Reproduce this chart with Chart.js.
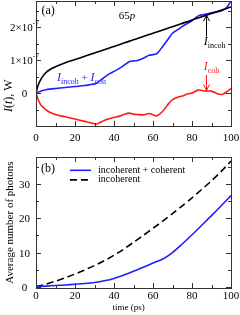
<!DOCTYPE html>
<html>
<head>
<meta charset="utf-8">
<script src="https://cdn.jsdelivr.net/npm/chart.js@4.4.0/dist/chart.umd.min.js"></script>
<style>
  html, body { margin: 0; padding: 0; background: #fff; }
  #wrap { position: relative; width: 240px; height: 315px; }
  canvas { position: absolute; left: 0; }
</style>
</head>
<body>
<div id="wrap">
  <canvas id="panelA" width="240" height="150" style="top:0"></canvas>
  <canvas id="panelB" width="240" height="165" style="top:150px"></canvas>
</div>
<script>
// ---- panel (a): intensity, in units of 1e-7 W ----
const timeA = [0, 1, 2, 3, 5, 7, 10, 15, 20, 25, 28, 30, 31, 32, 35, 38, 40, 43, 45, 48, 50,
  52, 55, 58, 60, 62, 65, 68, 70, 73, 75, 78, 80, 83, 85, 87, 90, 93, 95, 96, 98, 100];
const incoh = [0, 0.22, 0.36, 0.47, 0.62, 0.71, 0.8, 0.92, 1.02, 1.12, 1.18, 1.22, 1.24, 1.26,
  1.32, 1.38, 1.42, 1.48, 1.52, 1.58, 1.62, 1.66, 1.72, 1.78, 1.82, 1.86, 1.92, 1.98, 2.02,
  2.08, 2.12, 2.18, 2.22, 2.28, 2.32, 2.36, 2.42, 2.48, 2.52, 2.54, 2.58, 2.62];
const incohPlusCoh = [0, 0.03, 0.05, 0.07, 0.1, 0.12, 0.14, 0.17, 0.2, 0.23, 0.26, 0.28, 0.3,
  0.34, 0.48, 0.6, 0.66, 0.76, 0.84, 0.96, 0.98, 0.99, 1.06, 1.15, 1.17, 1.2, 1.42, 1.66, 1.82,
  1.94, 2.03, 2.13, 2.2, 2.34, 2.38, 2.4, 2.44, 2.47, 2.5, 2.52, 2.62, 2.8];
const coh = [0, -0.18, -0.31, -0.4, -0.5, -0.58, -0.65, -0.72, -0.79, -0.86, -0.9, -0.93, -0.94,
  -0.92, -0.83, -0.77, -0.74, -0.7, -0.65, -0.61, -0.64, -0.65, -0.66, -0.62, -0.66, -0.69,
  -0.55, -0.32, -0.2, -0.12, -0.09, -0.02, 0, 0.09, 0.08, 0.06, 0.06, -0.02, -0.04, -0.03, 0.05, 0.14];
const xTicksA = [0, 20, 40, 60, 80, 100];
const yTicksA = [0, 1, 2];

// ---- panel (b): average number of photons ----
const timeB = [0, 5, 10, 15, 20, 25, 30, 35, 40, 45, 50, 55, 60, 65, 70, 75, 80, 85, 90, 95, 100];
const photonsBoth = [0, 0.15, 0.35, 0.5, 0.7, 0.9, 1.2, 1.7, 2.4, 3.4, 4.5, 5.7, 6.9, 8.1, 10.0,
  12.5, 15.2, 18.0, 20.8, 23.7, 26.7];
const photonsIncoh = [0, 0.7, 1.6, 2.6, 3.7, 4.9, 6.2, 7.6, 9.2, 11.0, 13.0, 15.0, 17.1, 19.2,
  21.4, 23.7, 26.0, 28.5, 31.0, 33.8, 36.8];
const xTicksB = [0, 20, 40, 60, 80, 100];
const yTicksB = [0, 10, 20, 30];

const SERIF = '"Liberation Serif", "DejaVu Serif", serif';

function pts(xs, ys) {
  return xs.map((x, i) => ({ x: x, y: ys[i] }));
}

function font(size, italic) {
  return (italic ? 'italic ' : '') + size + 'px ' + SERIF;
}

// draws a run of text pieces: {t, size, it, dy}
function drawRich(ctx, x, y, parts, color) {
  ctx.fillStyle = color || '#000';
  ctx.textBaseline = 'alphabetic';
  ctx.textAlign = 'left';
  let cx = x;
  parts.forEach(p => {
    ctx.font = font(p.size || 11, p.it);
    ctx.fillText(p.t, cx, y + (p.dy || 0));
    cx += ctx.measureText(p.t).width;
  });
  return cx - x;
}

function richWidth(ctx, parts) {
  let w = 0;
  parts.forEach(p => { ctx.font = font(p.size || 11, p.it); w += ctx.measureText(p.t).width; });
  return w;
}

function arrow(ctx, x, y1, y2, color) {
  const dir = y2 > y1 ? 1 : -1;
  ctx.strokeStyle = color; ctx.lineWidth = 1;
  ctx.beginPath();
  ctx.moveTo(x, y1); ctx.lineTo(x, y2);
  ctx.moveTo(x - 3, y2 - dir * 6); ctx.lineTo(x, y2); ctx.lineTo(x + 3, y2 - dir * 6);
  ctx.stroke();
}

const framePlugin = {
  id: 'frame',
  afterDraw(chart, args, o) {
    const ctx = chart.ctx, a = chart.chartArea;
    const xs = chart.scales.x, ys = chart.scales.y;
    const X = v => xs.getPixelForValue(v), Y = v => ys.getPixelForValue(v);
    ctx.save();
    ctx.strokeStyle = '#333';
    ctx.lineWidth = 1;
    ctx.strokeRect(Math.round(a.left) + .5, Math.round(a.top) + .5,
      Math.round(a.right - a.left), Math.round(a.bottom - a.top));

    // inward ticks on all four sides
    ctx.beginPath();
    const isMajor = (v, m) => Math.abs(v / m - Math.round(v / m)) < 1e-6;
    for (let v = Math.ceil(xs.min / o.xMinor) * o.xMinor; v <= xs.max + 1e-9; v += o.xMinor) {
      const px = Math.round(X(v)) + .5, len = isMajor(v, o.xMajor) ? 5 : 3;
      ctx.moveTo(px, a.bottom); ctx.lineTo(px, a.bottom - len);
      ctx.moveTo(px, a.top); ctx.lineTo(px, a.top + len);
    }
    for (let v = Math.ceil(ys.min / o.yMinor) * o.yMinor; v <= ys.max + 1e-9; v += o.yMinor) {
      const py = Math.round(Y(v)) + .5, len = isMajor(v, o.yMajor) ? 5 : 3;
      ctx.moveTo(a.left, py); ctx.lineTo(a.left + len, py);
      ctx.moveTo(a.right, py); ctx.lineTo(a.right - len, py);
    }
    ctx.stroke();

    // tick labels
    ctx.fillStyle = '#000';
    ctx.font = font(11);
    ctx.textAlign = 'center';
    ctx.textBaseline = 'middle';
    o.xLabels.forEach(v => ctx.fillText(String(v), X(v), a.bottom + o.xLabelGap));
    o.yLabels.forEach(v => {
      const parts = o.yFormat(v);
      const w = richWidth(ctx, parts);
      drawRich(ctx, o.yLabelX - w / 2, Y(v) + 4, parts);
    });

    // axis titles
    if (o.xTitle) {
      ctx.font = font(o.xTitle.size);
      ctx.textAlign = 'center';
      ctx.textBaseline = 'middle';
      ctx.fillText(o.xTitle.text, X(o.xTitle.at), a.bottom + o.xTitle.gap);
    }
    if (o.yTitle) {
      ctx.save();
      ctx.translate(o.yTitle.x, Y(o.yTitle.at));
      ctx.rotate(-Math.PI / 2);
      const w = richWidth(ctx, o.yTitle.parts);
      drawRich(ctx, -w / 2, 4, o.yTitle.parts);
      ctx.restore();
    }

    // text notes and arrows
    (o.notes || []).forEach(n => {
      const w = richWidth(ctx, n.parts);
      const x0 = n.center ? X(n.x) - w / 2 : X(n.x);
      drawRich(ctx, x0, Y(n.y), n.parts, n.color);
    });
    (o.arrows || []).forEach(r => arrow(ctx, Math.round(X(r.x)) + .5, Y(r.from), Y(r.to), r.color));

    // legend built from the datasets
    if (o.legend) {
      const L = o.legend;
      chart.data.datasets.forEach((ds, i) => {
        const y = Y(L.y[i]);
        ctx.strokeStyle = ds.borderColor;
        ctx.lineWidth = 1.6;
        ctx.setLineDash(ds.borderDash || []);
        ctx.beginPath();
        ctx.moveTo(X(L.x1), y); ctx.lineTo(X(L.x2), y);
        ctx.stroke();
        ctx.setLineDash([]);
        ctx.fillStyle = '#000';
        ctx.font = font(10);
        ctx.textAlign = 'left';
        ctx.textBaseline = 'middle';
        ctx.fillText(ds.label, X(L.xt), y);
      });
    }
    ctx.restore();
  }
};

function hiddenScale(min, max) {
  return { type: 'linear', min: min, max: max, display: false };
}

new Chart(document.getElementById('panelA').getContext('2d'), {
  type: 'line',
  data: {
    datasets: [
      { label: 'I incoh', data: pts(timeA, incoh), borderColor: '#000000', borderWidth: 1.6,
        pointRadius: 0, tension: 0.3 },
      { label: 'I incoh + I coh', data: pts(timeA, incohPlusCoh), borderColor: '#1f1fff',
        borderWidth: 1.6, pointRadius: 0, tension: 0.3 },
      { label: 'I coh', data: pts(timeA, coh), borderColor: '#ff1a1a', borderWidth: 1.6,
        pointRadius: 0, tension: 0.3 },
    ],
  },
  options: {
    responsive: false,
    animation: false,
    layout: { padding: { left: 36, right: 9, top: 1, bottom: 24 } },
    scales: { x: hiddenScale(0, 100), y: hiddenScale(-1, 2.8) },
    plugins: {
      legend: { display: false },
      tooltip: { enabled: false },
      frame: {
        xMinor: 10, xMajor: 20, yMinor: 0.5, yMajor: 1,
        xLabels: xTicksA, xLabelGap: 12, yLabelX: 24.5, yLabels: yTicksA,
        yFormat: v => v === 0 ? [{ t: '0' }] :
          [{ t: v + '\u00d710' }, { t: '-7', size: 7.5, dy: -5 }],
        yTitle: { x: 8, at: -0.08, parts: [{ t: 'I', it: true, size: 12 }, { t: '(', size: 12 },
          { t: 't', it: true, size: 12 }, { t: '), W', size: 12 }] },
        notes: [
          { x: 6.2, y: 2.4, center: true, parts: [{ t: '(a)', size: 12 }] },
          { x: 46.7, y: 2.25, center: true, parts: [{ t: '65', size: 11 }, { t: 'p', it: true, size: 11 }] },
          { x: 86, y: 1.46, parts: [{ t: 'I', it: true, size: 12 }, { t: 'incoh', size: 8, dy: 3 }] },
          { x: 86, y: 0.71, color: '#ff1a1a', parts: [{ t: 'I', it: true, size: 12 }, { t: 'coh', size: 8, dy: 3 }] },
          { x: 10.8, y: 0.37, color: '#1f1fff', parts: [{ t: 'I', it: true, size: 12 },
            { t: 'incoh', size: 8, dy: 3 }, { t: ' + ', size: 11 }, { t: 'I', it: true, size: 12 },
            { t: 'coh', size: 8, dy: 3 }] },
        ],
        arrows: [
          { x: 87.2, from: 1.72, to: 2.37, color: '#000' },
          { x: 87.2, from: 0.55, to: 0.08, color: '#ff1a1a' },
        ],
      },
    },
  },
  plugins: [framePlugin],
});

new Chart(document.getElementById('panelB').getContext('2d'), {
  type: 'line',
  data: {
    datasets: [
      { label: 'incoherent + coherent', data: pts(timeB, photonsBoth), borderColor: '#1f1fff',
        borderWidth: 1.6, pointRadius: 0, tension: 0.3 },
      { label: 'incoherent', data: pts(timeB, photonsIncoh), borderColor: '#000000',
        borderWidth: 1.6, borderDash: [7, 4], pointRadius: 0, tension: 0.3 },
    ],
  },
  options: {
    responsive: false,
    animation: false,
    layout: { padding: { left: 36, right: 9, top: 7, bottom: 27 } },
    scales: { x: hiddenScale(0, 100), y: hiddenScale(-0.4, 38) },
    plugins: {
      legend: { display: false },
      tooltip: { enabled: false },
      frame: {
        xMinor: 10, xMajor: 20, yMinor: 5, yMajor: 10,
        xLabels: xTicksB, xLabelGap: 8, yLabelX: 24.5, yLabels: yTicksB,
        yFormat: v => [{ t: String(v) }],
        xTitle: { text: 'time (ps)', size: 9, at: 47.5, gap: 20 },
        yTitle: { x: 9, at: 18.8, parts: [{ t: 'Average number of photons', size: 11 }] },
        notes: [
          { x: 6.2, y: 33.6, center: true, parts: [{ t: '(b)', size: 12 }] },
        ],
        legend: { x1: 17.4, x2: 28.2, xt: 31.8, y: [34.1, 31.3] },
      },
    },
  },
  plugins: [framePlugin],
});
</script>
</body>
</html>
